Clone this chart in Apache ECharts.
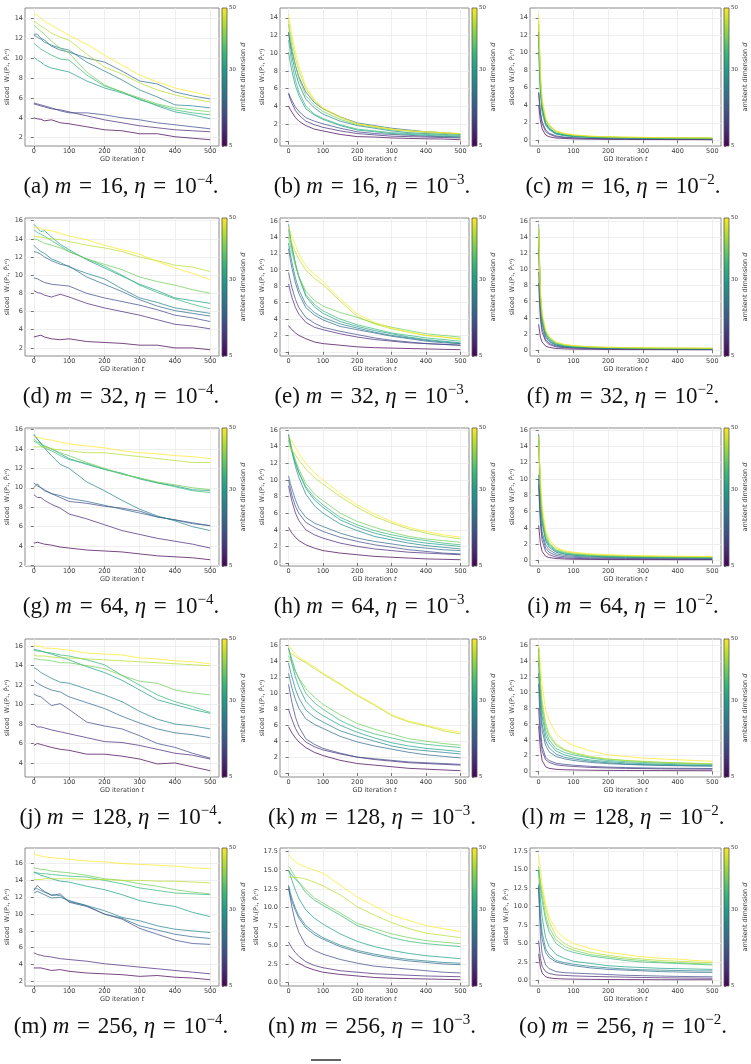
<!DOCTYPE html>
<html>
<head>
<meta charset="utf-8">
<style>
  html, body { margin: 0; padding: 0; background: #fff; }
  #chart { width: 751px; height: 1064px; }
</style>
</head>
<body>
<div id="chart"></div>
<script src="https://cdn.jsdelivr.net/npm/echarts@6/dist/echarts.min.js"></script>
<script>
// GD iterations at which the curves are read
const iters = [0, 5, 10, 20, 30, 50, 75, 100, 150, 200, 250, 300, 350, 400, 450, 500]
// ambient dimension d of each curve (d = 5 ... 50)
const dims = [5, 10, 15, 20, 25, 30, 35, 40, 45, 50]
const viridis = ['#440154', '#482878', '#3e4989', '#31688e', '#26828e', '#1f9e89', '#35b779', '#6ece58', '#b5de2b', '#fde725']
const xTicks = [0, 100, 200, 300, 400, 500]
const cbarTicks = [5, 30, 50]

const ticks0to14 = [0, 2, 4, 6, 8, 10, 12, 14]
const ticks2to14 = [2, 4, 6, 8, 10, 12, 14]
const ticks0to16 = [0, 2, 4, 6, 8, 10, 12, 14, 16]
const ticks2to16 = [2, 4, 6, 8, 10, 12, 14, 16]
const ticks4to16 = [4, 6, 8, 10, 12, 14, 16]
const ticks0to175 = [0, 2.5, 5, 7.5, 10, 12.5, 15, 17.5]

// m = 16
const m16e4 = [
  [4.0, 3.95, 3.9, 3.85, 3.7, 3.8, 3.5, 3.4, 3.1, 2.8, 2.7, 2.4, 2.4, 2.1, 1.95, 1.8],
  [5.4, 5.35, 5.3, 5.2, 5.1, 4.9, 4.8, 4.6, 4.2, 3.8, 3.5, 3.2, 3.0, 2.8, 2.7, 2.6],
  [5.5, 5.45, 5.4, 5.3, 5.2, 5.0, 4.7, 4.5, 4.5, 4.3, 4.0, 3.8, 3.5, 3.3, 3.1, 2.9],
  [12.4, 12.3, 12.4, 12.0, 11.8, 11.2, 10.8, 10.6, 10.0, 9.6, 8.7, 7.7, 7.4, 6.6, 6.2, 5.9],
  [12.3, 12.2, 12.1, 11.9, 11.6, 11.3, 11.0, 10.8, 9.6, 8.7, 7.8, 6.8, 6.1, 5.3, 5.2, 5.0],
  [10.1, 9.9, 9.8, 9.6, 9.3, 9.0, 8.8, 8.6, 7.7, 7.0, 6.5, 5.9, 5.2, 4.6, 4.3, 3.9],
  [11.5, 11.4, 11.2, 10.9, 10.7, 10.3, 9.9, 9.8, 8.3, 7.2, 6.6, 5.8, 5.3, 4.8, 4.5, 4.3],
  [13.3, 13.2, 13.0, 12.7, 12.4, 11.7, 11.0, 10.5, 8.6, 7.3, 6.6, 6.0, 5.4, 5.0, 4.8, 4.6],
  [13.7, 13.6, 13.5, 13.2, 13.0, 12.5, 12.1, 11.8, 10.4, 9.1, 8.4, 7.5, 6.8, 6.3, 5.9, 5.6],
  [14.4, 14.3, 14.3, 14.0, 13.7, 13.3, 12.8, 12.3, 11.4, 10.3, 9.3, 8.3, 7.6, 7.0, 6.6, 6.2]
]
const m16e3 = [
  [4.0, 3.6, 3.3, 2.7, 2.3, 1.8, 1.4, 1.2, 0.8, 0.55, 0.5, 0.4, 0.35, 0.3, 0.28, 0.2],
  [5.4, 4.8, 4.3, 3.5, 3.0, 2.3, 1.9, 1.6, 1.2, 0.9, 0.75, 0.6, 0.55, 0.5, 0.45, 0.4],
  [5.5, 5.0, 4.6, 3.9, 3.4, 2.7, 2.3, 2.0, 1.5, 1.1, 0.9, 0.8, 0.7, 0.6, 0.55, 0.5],
  [12.4, 11.2, 10.2, 8.6, 7.3, 5.6, 4.4, 3.7, 2.8, 2.1, 1.8, 1.5, 1.3, 1.1, 1.0, 0.8],
  [12.3, 10.8, 9.6, 7.8, 6.5, 4.8, 3.8, 3.1, 2.3, 1.8, 1.5, 1.2, 1.0, 0.9, 0.8, 0.7],
  [10.1, 8.9, 7.9, 6.3, 5.2, 3.7, 3.0, 2.5, 1.8, 1.3, 1.1, 0.9, 0.8, 0.7, 0.6, 0.5],
  [11.5, 10.0, 8.8, 6.9, 5.6, 4.0, 3.1, 2.6, 1.9, 1.4, 1.2, 1.0, 0.9, 0.8, 0.7, 0.6],
  [13.3, 11.8, 10.6, 8.6, 7.1, 5.2, 4.1, 3.4, 2.5, 1.9, 1.6, 1.3, 1.2, 1.0, 0.9, 0.8],
  [13.7, 12.4, 11.3, 9.4, 8.0, 6.0, 4.6, 3.7, 2.7, 2.0, 1.7, 1.4, 1.2, 1.1, 1.0, 0.9],
  [14.4, 13.1, 12.0, 10.1, 8.5, 6.3, 4.8, 3.8, 2.8, 2.0, 1.7, 1.4, 1.2, 1.1, 1.0, 0.9]
]
const m16e2 = [
  [4.0, 2.2, 1.3, 0.6, 0.4, 0.25, 0.2, 0.15, 0.12, 0.1, 0.1, 0.08, 0.08, 0.07, 0.07, 0.06],
  [5.4, 3.0, 1.9, 1.0, 0.7, 0.4, 0.3, 0.25, 0.2, 0.17, 0.15, 0.14, 0.13, 0.12, 0.11, 0.1],
  [5.5, 3.2, 2.1, 1.2, 0.8, 0.5, 0.35, 0.3, 0.22, 0.2, 0.18, 0.16, 0.15, 0.14, 0.13, 0.12],
  [12.4, 6.5, 3.8, 2.0, 1.4, 0.8, 0.6, 0.5, 0.4, 0.35, 0.3, 0.28, 0.26, 0.25, 0.24, 0.22],
  [12.3, 6.2, 3.6, 1.9, 1.3, 0.75, 0.55, 0.45, 0.35, 0.3, 0.27, 0.25, 0.23, 0.22, 0.21, 0.2],
  [10.1, 5.2, 3.1, 1.7, 1.2, 0.7, 0.5, 0.42, 0.33, 0.28, 0.25, 0.23, 0.21, 0.2, 0.19, 0.18],
  [11.5, 6.0, 3.5, 1.9, 1.3, 0.8, 0.6, 0.48, 0.37, 0.31, 0.28, 0.26, 0.24, 0.23, 0.22, 0.21],
  [13.3, 7.0, 4.2, 2.3, 1.6, 0.95, 0.7, 0.55, 0.42, 0.36, 0.32, 0.3, 0.28, 0.27, 0.26, 0.25],
  [13.7, 7.3, 4.4, 2.4, 1.7, 1.0, 0.75, 0.6, 0.45, 0.38, 0.34, 0.32, 0.3, 0.28, 0.27, 0.26],
  [14.4, 7.8, 4.8, 2.6, 1.8, 1.1, 0.8, 0.62, 0.47, 0.4, 0.36, 0.33, 0.31, 0.29, 0.28, 0.27]
]

// m = 32
const m32e4 = [
  [3.2, 3.3, 3.3, 3.4, 3.2, 3.0, 2.9, 3.0, 2.7, 2.6, 2.5, 2.3, 2.3, 2.0, 2.0, 1.8],
  [8.3, 8.2, 8.1, 8.0, 7.8, 7.6, 7.9, 7.6, 6.9, 6.4, 6.0, 5.6, 5.1, 4.6, 4.4, 4.1],
  [9.7, 9.8, 9.6, 9.4, 9.2, 9.0, 8.9, 8.8, 8.0, 7.5, 7.1, 6.7, 6.2, 5.6, 5.3, 4.9],
  [12.6, 12.5, 12.5, 12.3, 12.0, 11.6, 11.2, 11.0, 9.8, 9.0, 8.2, 7.3, 6.6, 6.1, 5.8, 5.5],
  [13.3, 13.1, 12.9, 12.6, 12.4, 11.8, 11.4, 10.9, 10.2, 9.6, 8.5, 7.5, 7.0, 6.4, 6.1, 5.8],
  [15.6, 15.4, 15.2, 14.8, 14.9, 14.2, 13.4, 12.8, 11.7, 10.8, 9.9, 9.0, 8.3, 7.5, 7.2, 6.9],
  [15.0, 14.9, 14.7, 14.5, 14.3, 13.8, 13.2, 12.6, 11.8, 11.0, 10.0, 8.9, 8.1, 7.4, 6.8, 6.3],
  [14.0, 13.9, 13.9, 13.7, 13.5, 13.3, 13.0, 12.6, 11.8, 11.2, 10.6, 9.8, 9.3, 8.9, 8.4, 8.0],
  [14.3, 14.3, 14.2, 14.2, 14.1, 14.0, 13.9, 13.7, 13.3, 13.0, 12.6, 12.0, 11.6, 11.1, 10.9, 10.4],
  [15.3, 15.3, 15.2, 15.2, 15.0, 14.9, 14.6, 14.3, 13.9, 13.3, 12.8, 12.3, 11.5, 10.8, 10.2, 9.5]
]
const m32e3 = [
  [3.2, 2.9, 2.7, 2.3, 2.0, 1.6, 1.2, 1.0, 0.8, 0.6, 0.5, 0.45, 0.4, 0.35, 0.3, 0.25],
  [8.3, 7.4, 6.6, 5.4, 4.6, 3.6, 3.0, 2.7, 2.2, 1.8, 1.5, 1.3, 1.1, 1.0, 0.9, 0.8],
  [9.7, 8.7, 7.8, 6.4, 5.4, 4.2, 3.5, 3.0, 2.5, 2.1, 1.7, 1.4, 1.2, 1.0, 0.9, 0.8],
  [12.6, 11.3, 10.2, 8.4, 7.1, 5.4, 4.5, 3.9, 3.1, 2.7, 2.3, 1.9, 1.6, 1.3, 1.1, 1.0],
  [13.3, 12.0, 10.9, 9.0, 7.6, 5.8, 4.8, 4.2, 3.4, 2.9, 2.4, 2.0, 1.7, 1.4, 1.2, 1.0],
  [15.6, 14.2, 12.9, 10.8, 9.1, 6.8, 5.5, 4.7, 3.7, 3.1, 2.6, 2.2, 1.8, 1.5, 1.3, 1.1],
  [15.0, 13.7, 12.6, 10.7, 9.2, 7.0, 5.8, 5.0, 4.0, 3.3, 2.8, 2.3, 2.0, 1.7, 1.5, 1.3],
  [14.0, 13.0, 12.1, 10.5, 9.2, 7.4, 6.3, 5.6, 4.8, 4.2, 3.5, 3.0, 2.6, 2.2, 2.0, 1.8],
  [14.3, 13.8, 13.2, 12.2, 11.3, 10.0, 9.0, 8.2, 6.2, 4.3, 3.4, 2.8, 2.4, 2.0, 1.8, 1.6],
  [15.3, 14.7, 14.1, 13.0, 12.0, 10.5, 9.5, 8.6, 6.5, 4.6, 3.6, 2.9, 2.4, 2.0, 1.8, 1.5]
]
const m32e2 = [
  [3.2, 1.6, 1.0, 0.5, 0.35, 0.2, 0.15, 0.12, 0.1, 0.08, 0.07, 0.07, 0.06, 0.06, 0.05, 0.05],
  [8.3, 3.8, 2.2, 1.1, 0.7, 0.4, 0.3, 0.25, 0.2, 0.17, 0.15, 0.14, 0.13, 0.12, 0.11, 0.1],
  [9.7, 4.4, 2.6, 1.3, 0.85, 0.5, 0.36, 0.3, 0.23, 0.2, 0.18, 0.16, 0.15, 0.14, 0.13, 0.12],
  [12.6, 5.5, 3.2, 1.6, 1.05, 0.6, 0.42, 0.35, 0.27, 0.22, 0.2, 0.18, 0.17, 0.16, 0.15, 0.14],
  [13.3, 6.0, 3.5, 1.8, 1.15, 0.65, 0.46, 0.38, 0.29, 0.24, 0.21, 0.19, 0.18, 0.17, 0.16, 0.15],
  [15.6, 6.8, 4.0, 2.0, 1.3, 0.75, 0.52, 0.42, 0.32, 0.27, 0.24, 0.22, 0.2, 0.19, 0.18, 0.17],
  [15.0, 6.7, 4.0, 2.1, 1.4, 0.8, 0.56, 0.45, 0.34, 0.29, 0.26, 0.23, 0.22, 0.21, 0.2, 0.19],
  [14.0, 6.6, 4.1, 2.3, 1.55, 0.9, 0.62, 0.5, 0.38, 0.32, 0.28, 0.26, 0.24, 0.23, 0.22, 0.21],
  [14.3, 7.0, 4.3, 2.4, 1.6, 0.95, 0.66, 0.53, 0.4, 0.34, 0.3, 0.28, 0.26, 0.25, 0.24, 0.23],
  [15.3, 7.6, 4.7, 2.5, 1.7, 1.0, 0.7, 0.56, 0.42, 0.36, 0.32, 0.3, 0.28, 0.27, 0.26, 0.25]
]

// m = 64
const m64e4 = [
  [4.3, 4.5, 4.4, 4.3, 4.2, 4.1, 3.9, 3.8, 3.6, 3.5, 3.4, 3.2, 3.0, 2.9, 2.8, 2.6],
  [9.3, 9.2, 9.0, 9.0, 8.7, 8.3, 7.9, 7.3, 6.8, 6.2, 5.6, 5.2, 4.8, 4.5, 4.2, 3.8],
  [10.0, 10.2, 10.4, 10.0, 9.7, 9.4, 9.0, 8.6, 8.4, 8.1, 7.9, 7.6, 7.0, 6.7, 6.4, 6.1],
  [10.5, 10.3, 10.2, 10.0, 9.8, 9.4, 9.2, 8.9, 8.6, 8.2, 7.8, 7.4, 7.0, 6.7, 6.3, 6.1],
  [15.5, 15.3, 15.0, 14.5, 14.1, 13.3, 12.4, 12.0, 10.6, 9.7, 8.7, 7.8, 7.1, 6.6, 6.0, 5.6],
  [15.4, 15.2, 15.0, 14.6, 14.3, 14.0, 13.5, 13.0, 12.4, 11.9, 11.5, 10.9, 10.5, 10.2, 9.8, 9.7],
  [14.8, 14.7, 14.6, 14.3, 14.1, 13.8, 13.3, 12.9, 12.5, 11.9, 11.4, 11.0, 10.5, 10.1, 9.7, 9.5],
  [15.0, 14.9, 14.7, 14.5, 14.3, 14.0, 13.6, 13.3, 12.6, 12.0, 11.4, 11.0, 10.6, 10.3, 10.0, 9.8],
  [14.2, 14.2, 14.2, 14.2, 14.2, 14.0, 13.9, 13.8, 13.6, 13.6, 13.4, 13.2, 13.0, 12.8, 12.6, 12.6],
  [15.3, 15.3, 15.2, 15.1, 15.0, 14.9, 14.7, 14.5, 14.3, 14.1, 13.8, 13.6, 13.5, 13.3, 13.2, 13.0]
]
const m64e3 = [
  [4.3, 3.9, 3.6, 3.1, 2.7, 2.2, 1.8, 1.5, 1.2, 1.0, 0.8, 0.7, 0.6, 0.5, 0.45, 0.4],
  [9.3, 8.3, 7.4, 6.0, 5.1, 4.0, 3.4, 3.0, 2.4, 2.0, 1.7, 1.5, 1.3, 1.2, 1.1, 1.0],
  [10.0, 9.0, 8.1, 6.8, 6.0, 4.9, 4.3, 3.8, 3.1, 2.6, 2.2, 1.9, 1.6, 1.4, 1.2, 1.1],
  [10.5, 9.6, 8.9, 7.6, 6.6, 5.5, 4.8, 4.4, 3.6, 3.0, 2.6, 2.3, 2.0, 1.8, 1.6, 1.5],
  [15.5, 14.4, 13.4, 11.6, 10.3, 8.3, 6.9, 6.0, 4.7, 3.9, 3.2, 2.8, 2.4, 2.1, 1.9, 1.7],
  [15.4, 14.5, 13.6, 12.1, 10.9, 9.0, 7.6, 6.7, 5.2, 4.3, 3.6, 3.1, 2.7, 2.4, 2.2, 2.0],
  [14.8, 14.0, 13.3, 12.0, 10.9, 9.2, 7.9, 7.0, 5.5, 4.6, 3.9, 3.4, 3.0, 2.7, 2.4, 2.2],
  [15.0, 14.3, 13.6, 12.4, 11.3, 9.6, 8.3, 7.5, 6.0, 5.0, 4.3, 3.7, 3.2, 2.9, 2.7, 2.5],
  [14.2, 13.9, 13.6, 13.0, 12.4, 11.3, 10.3, 9.5, 8.0, 6.7, 5.6, 4.8, 4.1, 3.6, 3.2, 2.9],
  [15.3, 15.0, 14.6, 13.9, 13.2, 12.0, 10.9, 10.0, 8.4, 7.0, 5.9, 5.0, 4.3, 3.8, 3.4, 3.1]
]
const m64e2 = [
  [4.3, 2.0, 1.1, 0.5, 0.35, 0.22, 0.17, 0.14, 0.12, 0.1, 0.1, 0.09, 0.09, 0.08, 0.08, 0.08],
  [9.3, 4.5, 2.4, 1.1, 0.7, 0.4, 0.3, 0.25, 0.2, 0.18, 0.16, 0.15, 0.14, 0.13, 0.13, 0.12],
  [10.0, 5.2, 3.0, 1.5, 1.0, 0.6, 0.45, 0.38, 0.3, 0.26, 0.24, 0.22, 0.21, 0.2, 0.19, 0.18],
  [10.5, 5.8, 3.5, 1.9, 1.3, 0.8, 0.6, 0.5, 0.4, 0.35, 0.32, 0.3, 0.28, 0.27, 0.26, 0.25],
  [15.5, 8.0, 4.6, 2.4, 1.6, 1.0, 0.75, 0.62, 0.5, 0.43, 0.39, 0.36, 0.34, 0.32, 0.31, 0.3],
  [15.4, 8.3, 4.9, 2.6, 1.8, 1.1, 0.82, 0.68, 0.54, 0.47, 0.42, 0.39, 0.37, 0.35, 0.34, 0.33],
  [14.8, 8.4, 5.2, 2.8, 1.95, 1.2, 0.9, 0.75, 0.6, 0.52, 0.46, 0.43, 0.4, 0.38, 0.37, 0.36],
  [15.0, 8.9, 5.6, 3.1, 2.1, 1.3, 0.97, 0.8, 0.64, 0.55, 0.5, 0.46, 0.43, 0.41, 0.4, 0.38],
  [14.2, 9.2, 6.0, 3.4, 2.3, 1.45, 1.08, 0.9, 0.72, 0.62, 0.56, 0.51, 0.48, 0.46, 0.44, 0.42],
  [15.3, 10.2, 6.8, 3.8, 2.6, 1.6, 1.2, 1.0, 0.8, 0.7, 0.63, 0.58, 0.54, 0.51, 0.49, 0.47]
]

// m = 128
const m128e4 = [
  [5.8, 6.0, 6.0, 5.9, 5.8, 5.6, 5.4, 5.3, 4.9, 4.9, 4.7, 4.4, 3.9, 4.0, 3.6, 3.2],
  [8.0, 8.2, 7.7, 7.7, 7.6, 7.4, 7.2, 7.0, 6.6, 6.2, 6.1, 5.8, 5.4, 5.0, 4.8, 4.4],
  [11.1, 11.0, 10.9, 10.8, 10.5, 9.9, 10.1, 9.5, 8.2, 7.8, 7.5, 6.8, 6.0, 5.6, 5.0, 4.5],
  [12.5, 12.4, 12.2, 12.0, 11.8, 11.5, 11.3, 10.8, 10.2, 9.6, 8.8, 8.1, 7.5, 7.1, 6.9, 6.6],
  [13.8, 13.7, 13.6, 13.3, 13.1, 12.7, 12.3, 12.2, 11.6, 11.0, 10.3, 9.3, 8.5, 8.0, 7.8, 7.5],
  [15.7, 15.6, 15.6, 15.5, 15.4, 15.2, 14.9, 14.6, 13.9, 13.3, 12.5, 11.5, 10.5, 10.0, 9.5, 9.1],
  [15.6, 15.6, 15.5, 15.5, 15.4, 15.3, 15.1, 15.0, 14.6, 14.1, 13.0, 12.0, 11.0, 10.3, 9.8, 9.2],
  [14.7, 14.7, 14.7, 14.6, 14.6, 14.5, 14.3, 14.3, 14.0, 13.7, 13.0, 12.4, 12.2, 11.5, 11.2, 11.0],
  [15.1, 15.1, 15.0, 15.0, 15.0, 14.9, 14.8, 14.8, 14.7, 14.6, 14.5, 14.4, 14.3, 14.2, 14.1, 14.0],
  [16.1, 16.1, 16.0, 16.0, 15.8, 15.8, 15.7, 15.6, 15.3, 15.2, 15.1, 14.8, 14.7, 14.5, 14.4, 14.2]
]
const m128e3 = [
  [5.8, 5.4, 5.0, 4.4, 3.9, 3.2, 2.6, 2.2, 1.6, 1.2, 1.0, 0.8, 0.6, 0.5, 0.4, 0.3],
  [8.0, 7.3, 6.7, 5.6, 4.8, 3.9, 3.3, 2.9, 2.4, 2.0, 1.7, 1.5, 1.3, 1.2, 1.1, 1.0],
  [11.1, 9.9, 8.8, 7.0, 5.8, 4.3, 3.6, 3.1, 2.5, 2.0, 1.8, 1.6, 1.4, 1.3, 1.2, 1.1],
  [12.5, 11.5, 10.6, 9.2, 8.1, 6.8, 6.1, 5.6, 4.6, 3.9, 3.4, 3.0, 2.6, 2.3, 2.1, 1.9],
  [13.8, 12.8, 12.0, 10.5, 9.4, 7.9, 7.0, 6.4, 5.3, 4.6, 4.0, 3.4, 3.0, 2.8, 2.6, 2.4],
  [15.7, 14.7, 13.7, 12.0, 10.8, 9.0, 7.9, 7.2, 6.0, 5.1, 4.4, 3.8, 3.4, 3.1, 2.9, 2.7],
  [15.6, 14.9, 14.2, 12.8, 11.8, 10.0, 8.8, 8.0, 6.6, 5.6, 4.9, 4.4, 3.9, 3.6, 3.4, 3.2],
  [14.7, 14.2, 13.7, 12.7, 11.9, 10.6, 9.5, 8.6, 7.3, 6.2, 5.5, 4.9, 4.3, 4.0, 3.7, 3.5],
  [15.1, 15.0, 14.9, 14.6, 14.3, 13.8, 13.1, 12.4, 11.1, 9.7, 8.5, 7.2, 6.4, 5.9, 5.3, 4.9],
  [16.0, 15.7, 15.4, 14.9, 14.5, 14.0, 13.3, 12.5, 11.2, 9.8, 8.6, 7.3, 6.5, 6.0, 5.5, 5.1]
]
const m128e2 = [
  [5.8, 2.8, 1.4, 0.6, 0.4, 0.28, 0.22, 0.2, 0.16, 0.14, 0.13, 0.12, 0.12, 0.11, 0.11, 0.1],
  [8.0, 4.3, 2.6, 1.5, 1.15, 0.85, 0.72, 0.64, 0.52, 0.45, 0.4, 0.37, 0.34, 0.32, 0.31, 0.3],
  [11.1, 5.5, 3.2, 1.8, 1.4, 1.05, 0.9, 0.8, 0.65, 0.56, 0.5, 0.46, 0.43, 0.41, 0.4, 0.38],
  [12.5, 7.5, 5.2, 3.3, 2.5, 1.9, 1.6, 1.4, 1.15, 1.0, 0.9, 0.82, 0.77, 0.73, 0.7, 0.68],
  [13.8, 8.5, 6.0, 3.9, 3.0, 2.2, 1.8, 1.6, 1.3, 1.1, 0.97, 0.88, 0.82, 0.78, 0.74, 0.72],
  [15.7, 9.8, 7.0, 4.6, 3.6, 2.6, 2.1, 1.8, 1.45, 1.25, 1.1, 1.0, 0.92, 0.86, 0.82, 0.8],
  [15.6, 10.5, 7.8, 5.2, 4.0, 2.9, 2.4, 2.1, 1.7, 1.4, 1.25, 1.15, 1.05, 1.0, 0.95, 0.9],
  [14.7, 11.0, 8.5, 5.8, 4.5, 3.3, 2.7, 2.3, 1.8, 1.55, 1.4, 1.25, 1.15, 1.1, 1.0, 0.95],
  [15.1, 11.5, 9.0, 6.2, 4.8, 3.5, 2.8, 2.4, 1.9, 1.6, 1.4, 1.3, 1.2, 1.1, 1.05, 1.0],
  [16.0, 13.5, 11.0, 7.8, 6.5, 4.8, 3.9, 3.3, 2.6, 2.1, 1.9, 1.7, 1.6, 1.5, 1.4, 1.3]
]

// m = 256
const m256e4 = [
  [3.6, 3.5, 3.6, 3.6, 3.5, 3.3, 3.4, 3.2, 3.0, 2.9, 2.8, 2.6, 2.7, 2.5, 2.4, 2.2],
  [5.4, 5.3, 5.2, 5.1, 5.0, 4.9, 4.7, 4.6, 4.4, 4.1, 3.9, 3.7, 3.5, 3.3, 3.1, 2.9],
  [12.8, 13.1, 13.4, 13.0, 12.7, 12.2, 12.4, 11.4, 10.9, 10.0, 9.4, 8.3, 7.6, 6.9, 6.5, 6.4],
  [12.5, 12.6, 12.7, 12.5, 12.3, 11.9, 12.0, 11.6, 11.0, 10.0, 9.5, 8.6, 8.1, 7.6, 7.3, 7.1],
  [13.0, 13.2, 13.0, 12.8, 12.6, 12.3, 12.2, 11.5, 11.0, 10.4, 9.6, 9.2, 8.6, 8.2, 8.0, 7.8],
  [15.0, 14.9, 14.8, 14.6, 14.5, 14.2, 13.9, 13.8, 13.3, 12.9, 12.3, 11.6, 11.2, 10.9, 10.2, 9.7],
  [14.9, 14.9, 14.9, 14.8, 14.8, 14.7, 14.6, 14.5, 14.4, 14.0, 13.6, 13.1, 12.8, 12.5, 12.4, 12.3],
  [15.5, 15.5, 15.4, 15.3, 15.3, 15.1, 15.0, 14.9, 14.6, 14.2, 14.0, 13.6, 13.3, 12.9, 12.6, 12.4],
  [14.1, 14.1, 14.1, 14.1, 14.2, 14.2, 14.2, 14.2, 14.1, 14.1, 14.0, 14.0, 13.9, 13.9, 13.8, 13.7],
  [17.1, 17.0, 17.0, 16.9, 16.8, 16.7, 16.6, 16.5, 16.3, 16.2, 16.0, 15.9, 15.8, 15.7, 15.5, 15.4]
]
const m256e3 = [
  [3.6, 3.4, 3.2, 2.8, 2.6, 2.1, 1.7, 1.4, 1.1, 0.9, 0.7, 0.6, 0.55, 0.5, 0.45, 0.4],
  [5.4, 5.0, 4.6, 4.0, 3.5, 2.8, 2.3, 2.0, 1.6, 1.4, 1.2, 1.1, 1.0, 0.9, 0.85, 0.8],
  [12.8, 11.3, 10.0, 8.0, 6.7, 5.0, 4.3, 3.8, 3.1, 2.6, 2.2, 2.0, 1.8, 1.6, 1.4, 1.3],
  [12.5, 11.6, 10.8, 9.6, 8.6, 7.3, 6.4, 5.8, 4.8, 4.1, 3.6, 3.2, 2.9, 2.7, 2.5, 2.4],
  [13.0, 12.0, 11.2, 9.9, 8.9, 7.6, 6.7, 6.0, 5.0, 4.3, 3.8, 3.4, 3.1, 2.9, 2.7, 2.6],
  [15.0, 14.3, 13.6, 12.3, 11.2, 9.7, 8.6, 7.8, 6.5, 5.5, 4.8, 4.3, 3.9, 3.6, 3.4, 3.2],
  [14.9, 14.6, 14.3, 13.8, 13.3, 12.0, 11.0, 10.3, 9.0, 7.6, 6.8, 6.0, 5.5, 5.2, 5.0, 4.8],
  [15.5, 15.2, 14.8, 14.0, 13.4, 12.4, 11.3, 10.6, 9.3, 7.9, 7.2, 6.5, 6.0, 5.6, 5.4, 5.2],
  [14.1, 14.1, 14.0, 14.0, 14.0, 13.8, 13.4, 12.9, 11.7, 10.1, 9.0, 8.0, 7.2, 6.6, 6.3, 6.0],
  [17.1, 16.8, 16.5, 16.1, 15.8, 15.4, 15.0, 14.6, 13.0, 11.4, 10.2, 9.0, 8.3, 7.6, 7.2, 6.8]
]
const m256e2 = [
  [3.6, 1.8, 1.0, 0.5, 0.35, 0.25, 0.2, 0.18, 0.15, 0.13, 0.12, 0.11, 0.1, 0.1, 0.1, 0.1],
  [5.4, 3.0, 1.9, 1.2, 0.95, 0.75, 0.68, 0.62, 0.55, 0.5, 0.45, 0.4, 0.37, 0.34, 0.32, 0.3],
  [12.8, 6.0, 3.6, 2.1, 1.6, 1.2, 1.05, 1.0, 0.9, 0.8, 0.7, 0.65, 0.6, 0.55, 0.52, 0.5],
  [12.5, 7.8, 5.6, 3.8, 3.1, 2.5, 2.2, 2.0, 1.7, 1.5, 1.4, 1.3, 1.2, 1.15, 1.1, 1.1],
  [13.0, 8.8, 6.5, 4.3, 3.5, 2.7, 2.4, 2.2, 1.9, 1.7, 1.55, 1.45, 1.4, 1.35, 1.3, 1.3],
  [15.0, 11.0, 8.5, 5.8, 4.6, 3.5, 3.0, 2.6, 2.3, 2.0, 1.85, 1.75, 1.65, 1.6, 1.55, 1.5],
  [14.9, 12.7, 10.8, 8.2, 6.6, 5.0, 4.2, 3.8, 3.3, 3.0, 2.7, 2.5, 2.4, 2.3, 2.2, 2.1],
  [15.5, 13.5, 11.5, 8.8, 7.2, 5.5, 4.6, 4.1, 3.5, 3.2, 2.9, 2.7, 2.5, 2.4, 2.3, 2.2],
  [14.1, 13.2, 12.2, 9.8, 8.0, 6.0, 5.0, 4.4, 3.8, 3.4, 3.1, 2.9, 2.7, 2.6, 2.5, 2.4],
  [17.1, 15.0, 13.0, 10.3, 8.6, 6.8, 5.7, 5.0, 4.3, 3.8, 3.5, 3.2, 3.0, 2.9, 2.7, 2.6]
]

const panels = [
  { tag: 'a', m: 16, e: 4, curves: m16e4, ticks: ticks2to14 },
  { tag: 'b', m: 16, e: 3, curves: m16e3, ticks: ticks0to14 },
  { tag: 'c', m: 16, e: 2, curves: m16e2, ticks: ticks0to14 },
  { tag: 'd', m: 32, e: 4, curves: m32e4, ticks: ticks2to16 },
  { tag: 'e', m: 32, e: 3, curves: m32e3, ticks: ticks0to16 },
  { tag: 'f', m: 32, e: 2, curves: m32e2, ticks: ticks0to16 },
  { tag: 'g', m: 64, e: 4, curves: m64e4, ticks: ticks2to16 },
  { tag: 'h', m: 64, e: 3, curves: m64e3, ticks: ticks0to16 },
  { tag: 'i', m: 64, e: 2, curves: m64e2, ticks: ticks0to16 },
  { tag: 'j', m: 128, e: 4, curves: m128e4, ticks: ticks4to16 },
  { tag: 'k', m: 128, e: 3, curves: m128e3, ticks: ticks0to16 },
  { tag: 'l', m: 128, e: 2, curves: m128e2, ticks: ticks0to16 },
  { tag: 'm', m: 256, e: 4, curves: m256e4, ticks: ticks2to16 },
  { tag: 'n', m: 256, e: 3, curves: m256e3, ticks: ticks0to175 },
  { tag: 'o', m: 256, e: 2, curves: m256e2, ticks: ticks0to175 }
]

// layout
const colLeft = [25, 280, 530]
const colRight = [219, 469, 721]
const rowTop = [8, 218, 428, 639, 848]
const plotH = 138
const captionX = [121, 372, 623]

const tickFont = { fontSize: 6.5, color: '#3a3a3a', fontFamily: 'DejaVu Sans' }
const capFont = { fontFamily: 'Liberation Serif', fontSize: 23, lineHeight: 28, fill: '#111' }
const frameColor = '#8a8a8a'
const n = panels.length

const grid = []
const xAxis = []
const yAxis = []
const series = []
const graphic = []

panels.forEach((p, i) => {
  const col = i % 3
  const row = Math.floor(i / 3)
  const left = colLeft[col]
  const top = rowTop[row]
  const w = colRight[col] - left
  grid[i] = {
    left: left, top: top, width: w, height: plotH,
    show: true, borderColor: frameColor, borderWidth: 1, backgroundColor: '#fff',
    containLabel: false, outerBoundsMode: 'none'
  }
  grid[n + i] = {
    left: colRight[col] + 3, top: top, width: 5, height: plotH,
    containLabel: false, outerBoundsMode: 'none'
  }

  // matplotlib style 5% margins around the data
  const all = p.curves.flat()
  const lo = Math.min(...all)
  const hi = Math.max(...all)
  const pad = (hi - lo) * 0.05
  const dec = p.ticks.some(v => !Number.isInteger(v)) ? 1 : 0

  xAxis[i] = {
    gridIndex: i, type: 'value', min: -25, max: 525,
    axisLine: { show: false },
    axisTick: { show: true, customValues: xTicks, length: 3, lineStyle: { color: '#555', width: 0.8 } },
    axisLabel: Object.assign({ customValues: xTicks, margin: 2 }, tickFont),
    splitLine: { show: true, lineStyle: { color: '#ebebeb', width: 0.8 } },
    name: 'GD iteration {i|t}', nameLocation: 'middle', nameGap: 10,
    nameTextStyle: Object.assign({ rich: { i: Object.assign({ fontStyle: 'italic' }, tickFont) } }, tickFont)
  }
  yAxis[i] = {
    gridIndex: i, type: 'value', min: lo - pad, max: hi + pad,
    axisLine: { show: false },
    axisTick: { show: true, customValues: p.ticks, length: 3, lineStyle: { color: '#555', width: 0.8 } },
    axisLabel: Object.assign({ customValues: p.ticks, margin: 2, formatter: v => v.toFixed(dec) }, tickFont),
    splitLine: { show: true, lineStyle: { color: '#ebebeb', width: 0.8 } },
    name: 'sliced  W\u2081(P\u2081, P\u0302\u2081\u207F)', nameLocation: 'middle', nameGap: 13, nameRotate: 90,
    nameTextStyle: tickFont
  }
  xAxis[n + i] = { gridIndex: n + i, type: 'value', min: 0, max: 1, show: false }
  yAxis[n + i] = {
    gridIndex: n + i, type: 'value', min: 5, max: 50, position: 'right',
    axisLine: { show: false },
    axisTick: { show: true, customValues: cbarTicks, length: 2, lineStyle: { color: '#555', width: 0.8 } },
    axisLabel: Object.assign({ customValues: cbarTicks, margin: 2 }, tickFont, { fontSize: 5.5 }),
    splitLine: { show: false },
    name: 'ambient dimension {i|d}', nameLocation: 'middle', nameGap: 12, nameRotate: 90,
    nameTextStyle: Object.assign({ rich: { i: Object.assign({ fontStyle: 'italic' }, tickFont) } }, tickFont)
  }

  p.curves.forEach((vals, j) => {
    series.push({
      type: 'line', xAxisIndex: i, yAxisIndex: i,
      name: p.tag + ' d=' + dims[j],
      data: iters.map((t, k) => [t, vals[k]]),
      showSymbol: false, symbol: 'none', silent: true,
      lineStyle: { color: viridis[j], width: 1, opacity: 0.72 },
      z: 3
    })
  })

  // colour bar
  series.push({
    type: 'custom', xAxisIndex: n + i, yAxisIndex: n + i, silent: true,
    data: [[0, dims[0], dims[dims.length - 1]]],
    renderItem: (params, api) => {
      const a = api.coord([0, api.value(2)])
      const b = api.coord([1, api.value(1)])
      return {
        type: 'rect',
        shape: { x: a[0], y: a[1], width: b[0] - a[0], height: b[1] - a[1] },
        style: {
          fill: new echarts.graphic.LinearGradient(0, 1, 0, 0,
            viridis.map((c, k) => ({ offset: k / (viridis.length - 1), color: c }))),
          stroke: '#555', lineWidth: 0.8
        }
      }
    }
  })

  // caption: (x) m = .., eta = 10^-k.
  graphic.push({
    type: 'text', x: captionX[col], y: top + 179,
    style: Object.assign({
      text: '(' + p.tag + ') {i|m}\u2004=\u2004' + p.m + ', {i|\u03B7}\u2004=\u200410{s|\u2212' + p.e + '}.',
      align: 'center', verticalAlign: 'middle',
      rich: {
        i: Object.assign({ fontStyle: 'italic' }, capFont),
        s: { fontFamily: 'Liberation Serif', fontSize: 15, lineHeight: 17, verticalAlign: 'top', fill: '#111' }
      }
    }, capFont)
  })
})

// cut-off start of the figure caption below
graphic.push({ type: 'line', shape: { x1: 311, y1: 1060, x2: 341, y2: 1060 }, style: { stroke: '#111', lineWidth: 1.3 } })

const chart = echarts.init(document.getElementById('chart'))
chart.setOption({
  animation: false,
  backgroundColor: '#fff',
  grid: grid,
  xAxis: xAxis,
  yAxis: yAxis,
  series: series,
  graphic: graphic
})
</script>
</body>
</html>
